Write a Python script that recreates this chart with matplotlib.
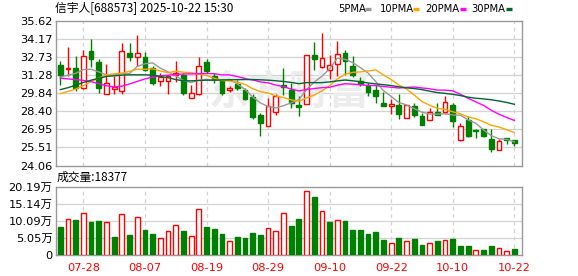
import numpy as np
import matplotlib
matplotlib.use("Agg")
import matplotlib.pyplot as plt
from matplotlib.lines import Line2D

plt.rcParams['font.family'] = ['DejaVu Sans', 'Noto Sans CJK SC']

# ---------------- data ----------------
dates = ["07-23","07-24","07-25","07-28","07-29","07-30","07-31","08-01","08-04","08-05",
         "08-06","08-07","08-08","08-11","08-12","08-13","08-14","08-15","08-18","08-19",
         "08-20","08-21","08-22","08-25","08-26","08-27","08-28","08-29","09-01","09-02",
         "09-03","09-04","09-05","09-08","09-09","09-10","09-11","09-12","09-15","09-16",
         "09-17","09-18","09-19","09-22","09-23","09-24","09-25","09-26","09-29","09-30",
         "10-09","10-10","10-13","10-14","10-15","10-16","10-17","10-20","10-21","10-22"]
label_dates = ["07-28", "08-07", "08-19", "08-29", "09-10", "09-22", "10-10", "10-22"]

opens  = [32.13,31.79,31.87,30.27,33.25,32.37,29.82,30.16,30.03,33.09,
          32.72,32.72,31.87,30.86,30.86,31.28,31.33,29.47,29.82,32.32,
          31.25,30.94,30.08,30.62,30.14,29.53,28.14,27.21,28.33,30.54,
          30.14,28.94,29.00,32.93,31.95,31.68,32.21,33.07,32.05,30.80,
          30.46,30.14,29.08,28.80,28.94,27.88,28.80,28.06,27.74,28.33,
          28.33,28.94,26.09,27.74,26.90,26.95,26.20,25.29,26.28,26.09]
highs  = [32.45,33.52,32.85,33.33,34.21,32.59,32.21,31.20,33.86,33.86,
          34.52,33.17,32.00,31.47,31.28,32.45,31.47,30.54,32.74,32.59,
          31.47,30.94,30.40,30.88,30.27,29.82,28.27,29.47,29.82,31.87,
          30.69,29.60,32.93,33.99,34.71,32.93,34.07,33.33,32.80,31.15,
          30.67,30.53,29.95,29.40,29.82,28.94,29.08,28.28,28.68,29.08,
          29.66,29.08,27.48,28.06,27.00,27.00,27.00,26.20,26.28,26.14]
lows   = [30.48,31.20,30.00,30.22,31.95,29.87,29.77,29.77,29.77,32.40,
          32.00,31.60,30.48,30.40,29.82,30.72,29.71,29.47,29.74,31.47,
          30.67,29.71,29.92,30.14,29.34,27.82,26.41,27.21,28.14,29.74,
          28.69,28.00,29.00,31.73,31.90,30.99,31.25,31.33,31.12,30.40,
          29.60,29.08,28.80,28.22,27.80,27.88,27.96,27.34,27.69,28.14,
          28.22,27.16,26.01,26.36,26.30,26.36,25.14,25.29,25.75,25.62]
closes = [31.28,31.87,30.27,32.85,32.59,30.24,30.67,30.32,33.22,32.74,
          33.06,31.73,30.67,31.15,31.20,31.47,29.85,29.90,32.05,31.60,
          30.99,29.87,30.28,30.24,29.42,27.96,27.48,28.86,29.66,30.32,
          29.10,28.76,32.93,32.63,32.66,32.11,33.01,32.45,31.33,30.62,
          29.92,29.60,28.80,29.02,28.20,28.94,28.14,27.34,28.33,28.14,
          29.12,27.61,27.26,26.41,26.85,26.41,25.35,26.01,26.14,25.88]
# volume in 10k shares (万)
volumes = [8.28,10.55,10.35,12.32,9.75,10.05,9.66,5.32,12.03,5.91,
           11.14,7.39,6.21,4.93,7.00,8.78,7.09,5.52,13.50,8.28,
           7.69,6.21,4.04,5.32,5.03,6.50,5.91,7.89,7.00,12.32,
           8.57,10.64,18.83,17.15,12.91,9.75,10.26,10.05,7.39,7.39,
           6.31,6.80,4.43,3.55,5.03,4.14,4.73,2.96,3.55,4.14,
           4.33,4.73,2.66,2.66,1.38,1.48,2.66,2.07,1.18,1.8377]

# moving-average values before a full window exists
ma5_head  = [31.15, 31.30, 31.45, 31.75]
ma10_head = [29.82, 30.00, 30.19, 30.46, 30.80, 31.07, 31.33, 31.41, 31.47]
ma20_head = [31.07, 31.00, 30.95, 30.88, 30.78, 30.62, 30.45, 30.35, 30.42, 30.60,
             30.80, 31.00, 31.15, 31.25, 31.30, 31.35, 31.40, 31.40, 31.42]
ma30_head = [30.14, 30.30, 30.50, 30.72, 30.90, 31.05, 31.20, 31.25, 31.30, 31.33,
             31.33, 31.33, 31.30, 31.20, 31.10, 30.95, 30.85, 30.85, 30.87, 30.90,
             30.90, 30.92, 30.93, 30.94, 30.95, 30.95, 30.93, 30.90, 30.85]

price_ticks = ["24.06","25.51","26.95","28.40","29.84","31.28","32.73","34.17","35.62"]
vol_ticks = ["0", "5.05万", "10.09万", "15.14万", "20.19万"]
title = "信宇人[688573] 2025-10-22 15:30"
legend_names = ["5PMA", "10PMA", "20PMA", "30PMA"]
vol_label = "成交量:18377"
watermark = "东方财富"

# ---------------- styling ----------------
RED = "#ff0000"
GREEN = "#008000"
MA_COLORS = ["#999999", "#ffa500", "#ff00ff", "#006633"]
GRID = "#d3d3d3"
BORDER = "#999999"

W, H = 578, 276
fig = plt.figure(figsize=(W / 100, H / 100), dpi=100)

def ax_rect(l, t, r, b):
    return [l / W, 1 - b / H, (r - l) / W, (b - t) / H]

axp = fig.add_axes(ax_rect(56, 21.3, 522, 165.5))
axv = fig.add_axes(ax_rect(56, 186.7, 522, 255))

n = len(closes)
x = np.arange(n)
o = np.array(opens); c = np.array(closes); h = np.array(highs); l = np.array(lows)
v = np.array(volumes)

def rolling(vals, win, head):
    out = list(head)
    for i in range(len(head), len(vals)):
        out.append(np.mean(vals[i - win + 1:i + 1]))
    return np.array(out)

mas = [rolling(c, 5, ma5_head), rolling(c, 10, ma10_head),
       rolling(c, 20, ma20_head), rolling(c, 30, ma30_head)]

pmin, pmax = float(price_ticks[0]), float(price_ticks[-1])
vmax = float(vol_ticks[-1].replace("万", ""))

up = c > o
bw = 0.62
for ax in (axp, axv):
    ax.set_xlim(-0.56, 60.0)
    for s in ax.spines.values():
        s.set_color(BORDER)
        s.set_linewidth(1.0)
    ax.tick_params(length=0, labelsize=8.2, pad=2.5)
    ax.set_xticks([])
    date_idx = [dates.index(d) for d in label_dates]
    for di in date_idx:
        ax.axvline(di, color=GRID, lw=0.9, ls=(0, (3, 3)), zorder=0)

# price pane
axp.set_ylim(pmin, pmax)
pt = [float(t) for t in price_ticks]
axp.set_yticks(pt)
axp.set_yticklabels(price_ticks)
for t in pt[1:-1]:
    axp.axhline(t, color=GRID, lw=0.9, zorder=0)

axp.text(0.5, 0.5, watermark, transform=axp.transAxes, fontsize=29, color="#ececec",
         ha="center", va="center", family=["Noto Sans CJK SC"], style="italic",
         fontweight="bold", zorder=0.5)

axp.vlines(x[up], l[up], h[up], color=RED, lw=1.0, zorder=2)
axp.vlines(x[~up], l[~up], h[~up], color=GREEN, lw=1.0, zorder=2)
bottoms = np.minimum(o, c)
heights = np.abs(c - o)
axp.bar(x[up], heights[up], bw, bottom=bottoms[up], facecolor="white",
        edgecolor=RED, lw=1.0, zorder=3)
axp.bar(x[~up], heights[~up], bw, bottom=bottoms[~up], facecolor=GREEN,
        edgecolor=GREEN, lw=1.0, zorder=3)

for ma, col in zip(mas, MA_COLORS):
    axp.plot(x, ma, color=col, lw=1.0, zorder=4)

# volume pane
prev = np.concatenate([[o[0]], c[:-1]])
vup = c > prev
axv.set_ylim(0, vmax)
vt = [0] + [float(t.replace("万", "")) for t in vol_ticks[1:]]
axv.set_yticks(vt)
axv.set_yticklabels(vol_ticks, family=["DejaVu Sans", "Noto Sans CJK SC"])
for t in vt[1:-1]:
    axv.axhline(t, color=GRID, lw=0.9, zorder=0)
axv.bar(x[vup], v[vup], bw, facecolor="white", edgecolor=RED, lw=1.0, zorder=3)
axv.bar(x[~vup], v[~vup], bw, facecolor=GREEN, edgecolor=GREEN, lw=1.0, zorder=3)

for d in label_dates:
    axv.text(dates.index(d), -0.11, d, transform=axv.get_xaxis_transform(),
             ha="center", va="top", fontsize=8.2, color=RED)

# header texts
fig.text(55 / W, 1 - 8.5 / H, title, fontsize=8.5, va="center", ha="left",
         family=["Noto Sans CJK SC", "DejaVu Sans"])
fig.text(57 / W, 1 - 177 / H, vol_label, fontsize=8.5, va="center", ha="left",
         family=["Noto Sans CJK SC", "DejaVu Sans"])

leg_text_x = [338, 380, 425.5, 471.5]
leg_mark_x = [365, 412.5, 460, 505.5]
for name, tx, mx, col in zip(legend_names, leg_text_x, leg_mark_x, MA_COLORS):
    fig.text(tx / W, 1 - 8.5 / H, name, fontsize=7.2, va="center", ha="left",
             family=["DejaVu Sans"])
    fig.add_artist(Line2D([mx / W, (mx + 6) / W], [1 - 8.5 / H, 1 - 8.5 / H],
                          color=col, lw=2.4, solid_capstyle="butt"))

fig.savefig("out.png", dpi=100)
